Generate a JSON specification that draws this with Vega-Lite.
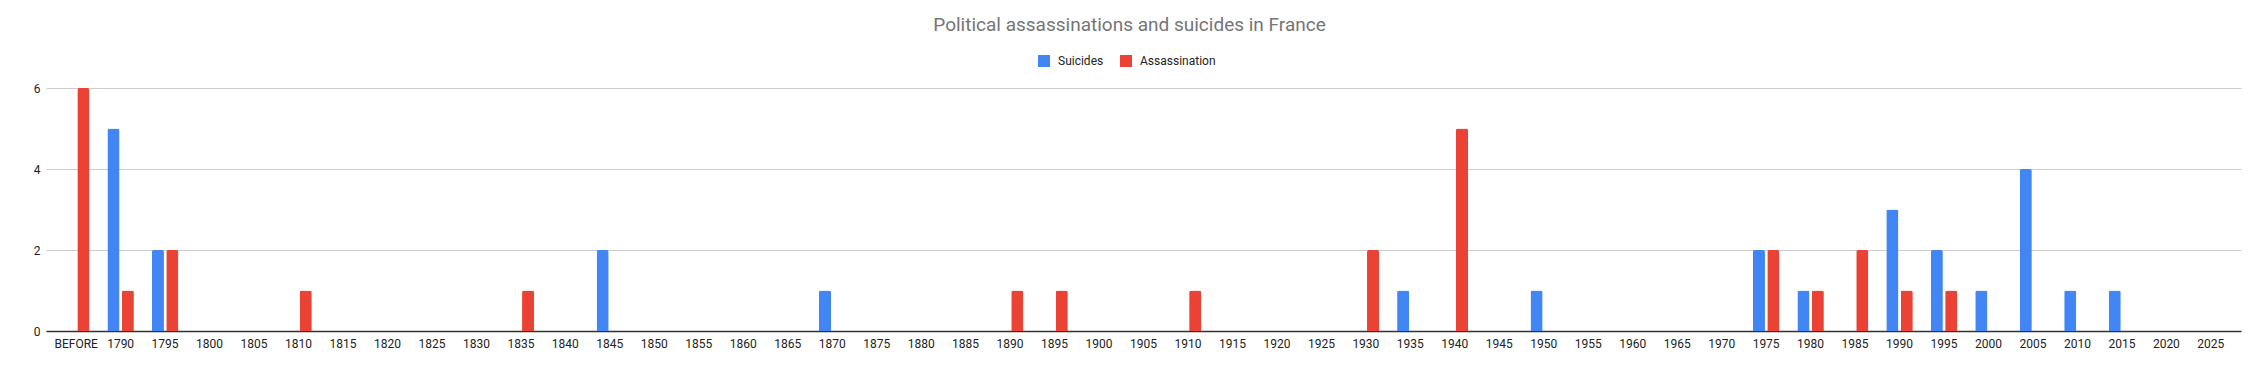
{
  "$schema": "https://vega.github.io/schema/vega-lite/v6.json",
  "width": 2195,
  "height": 243,
  "autosize": {"type": "none"},
  "padding": {"left": 46, "top": 88, "right": 19, "bottom": 40},
  "background": "white",
  "title": {
    "text": "Political assassinations and suicides in France",
    "font": "Roboto",
    "fontSize": 19,
    "fontWeight": "normal",
    "color": "#757575",
    "anchor": "middle",
    "dx": -14,
    "offset": 20
  },
  "data": {
    "values": [
      {"period": "BEFORE", "series": "Suicides", "count": 0},
      {"period": "BEFORE", "series": "Assassination", "count": 6},
      {"period": "1790", "series": "Suicides", "count": 5},
      {"period": "1790", "series": "Assassination", "count": 1},
      {"period": "1795", "series": "Suicides", "count": 2},
      {"period": "1795", "series": "Assassination", "count": 2},
      {"period": "1800", "series": "Suicides", "count": 0},
      {"period": "1805", "series": "Suicides", "count": 0},
      {"period": "1810", "series": "Assassination", "count": 1},
      {"period": "1815", "series": "Suicides", "count": 0},
      {"period": "1820", "series": "Suicides", "count": 0},
      {"period": "1825", "series": "Suicides", "count": 0},
      {"period": "1830", "series": "Suicides", "count": 0},
      {"period": "1835", "series": "Assassination", "count": 1},
      {"period": "1840", "series": "Suicides", "count": 0},
      {"period": "1845", "series": "Suicides", "count": 2},
      {"period": "1850", "series": "Suicides", "count": 0},
      {"period": "1855", "series": "Suicides", "count": 0},
      {"period": "1860", "series": "Suicides", "count": 0},
      {"period": "1865", "series": "Suicides", "count": 0},
      {"period": "1870", "series": "Suicides", "count": 1},
      {"period": "1875", "series": "Suicides", "count": 0},
      {"period": "1880", "series": "Suicides", "count": 0},
      {"period": "1885", "series": "Suicides", "count": 0},
      {"period": "1890", "series": "Assassination", "count": 1},
      {"period": "1895", "series": "Assassination", "count": 1},
      {"period": "1900", "series": "Suicides", "count": 0},
      {"period": "1905", "series": "Suicides", "count": 0},
      {"period": "1910", "series": "Assassination", "count": 1},
      {"period": "1915", "series": "Suicides", "count": 0},
      {"period": "1920", "series": "Suicides", "count": 0},
      {"period": "1925", "series": "Suicides", "count": 0},
      {"period": "1930", "series": "Assassination", "count": 2},
      {"period": "1935", "series": "Suicides", "count": 1},
      {"period": "1940", "series": "Assassination", "count": 5},
      {"period": "1945", "series": "Suicides", "count": 0},
      {"period": "1950", "series": "Suicides", "count": 1},
      {"period": "1955", "series": "Suicides", "count": 0},
      {"period": "1960", "series": "Suicides", "count": 0},
      {"period": "1965", "series": "Suicides", "count": 0},
      {"period": "1970", "series": "Suicides", "count": 0},
      {"period": "1975", "series": "Suicides", "count": 2},
      {"period": "1975", "series": "Assassination", "count": 2},
      {"period": "1980", "series": "Suicides", "count": 1},
      {"period": "1980", "series": "Assassination", "count": 1},
      {"period": "1985", "series": "Assassination", "count": 2},
      {"period": "1990", "series": "Suicides", "count": 3},
      {"period": "1990", "series": "Assassination", "count": 1},
      {"period": "1995", "series": "Suicides", "count": 2},
      {"period": "1995", "series": "Assassination", "count": 1},
      {"period": "2000", "series": "Suicides", "count": 1},
      {"period": "2005", "series": "Suicides", "count": 4},
      {"period": "2010", "series": "Suicides", "count": 1},
      {"period": "2015", "series": "Suicides", "count": 1},
      {"period": "2020", "series": "Suicides", "count": 0},
      {"period": "2025", "series": "Suicides", "count": 0}
    ]
  },
  "mark": {"type": "bar", "cornerRadiusTopLeft": 2, "cornerRadiusTopRight": 2},
  "encoding": {
    "x": {
      "field": "period",
      "type": "nominal",
      "sort": null,
      "scale": {"paddingInner": 0.404, "paddingOuter": 0.38},
      "axis": {
        "title": null,
        "labelAngle": 0,
        "labelFont": "Roboto",
        "labelFontSize": 12,
        "labelColor": "#222222",
        "labelPadding": 7,
        "labelOverlap": false,
        "ticks": false,
        "domainColor": "#333333",
        "domainWidth": 1.3
      }
    },
    "xOffset": {
      "field": "series",
      "type": "nominal",
      "sort": ["Suicides", "Assassination"],
      "scale": {"domain": ["Suicides", "Assassination"], "paddingInner": 0.16, "paddingOuter": 0}
    },
    "y": {
      "field": "count",
      "type": "quantitative",
      "scale": {"domain": [0, 6], "nice": false},
      "axis": {
        "title": null,
        "values": [0, 2, 4, 6],
        "labelFont": "Roboto",
        "labelFontSize": 12,
        "labelColor": "#222222",
        "labelPadding": 6,
        "ticks": false,
        "domain": false,
        "gridColor": "#cccccc",
        "gridWidth": 1
      }
    },
    "color": {
      "field": "series",
      "type": "nominal",
      "scale": {"domain": ["Suicides", "Assassination"], "range": ["#4285F4", "#EA4335"]},
      "legend": {
        "title": null,
        "orient": "none",
        "direction": "horizontal",
        "legendX": 992,
        "legendY": -33,
        "symbolType": "square",
        "symbolSize": 144,
        "symbolStrokeWidth": 0,
        "labelFont": "Roboto",
        "labelFontSize": 12,
        "labelColor": "#222222",
        "labelOffset": 8,
        "columnPadding": 16
      }
    }
  },
  "config": {
    "view": {"stroke": null},
    "font": "Roboto"
  }
}
